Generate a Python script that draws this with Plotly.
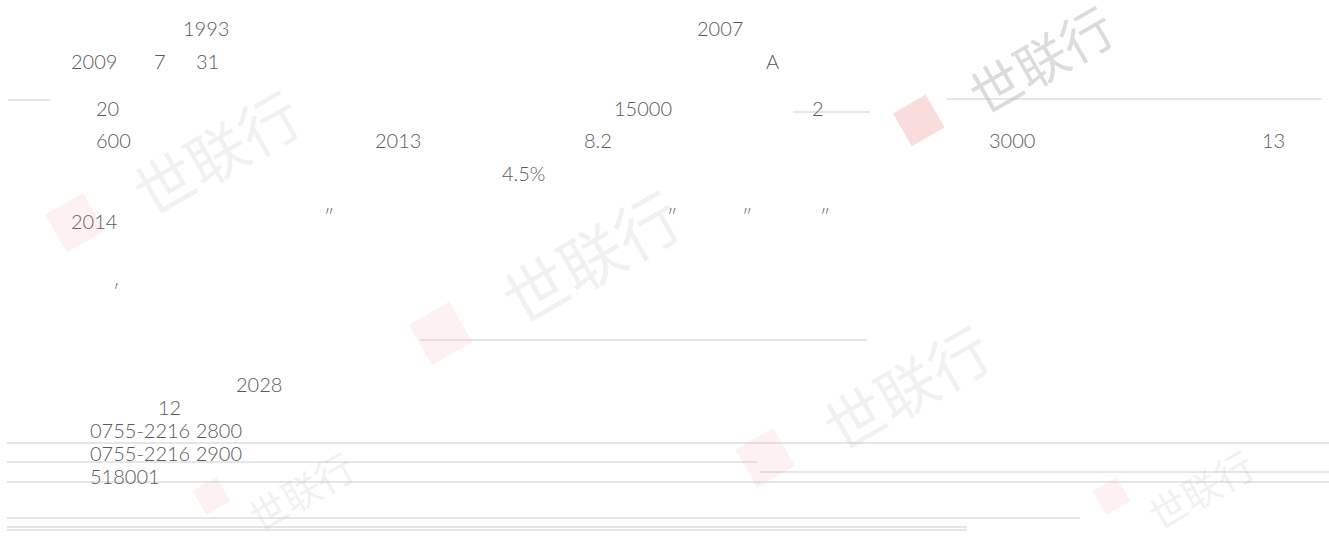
"""Scanned report page: stray numbers left over after CJK glyphs dropped out."""
import plotly.graph_objects as go

PAGE_W, PAGE_H = 1329, 538

# ── Text fragments still legible on the page (left edge x, centre y) ────────
words = [
    "1993", "2007",
    "2009", "7", "31", "A",
    "20", "15000", "2",
    "600", "2013", "8.2", "3000", "13",
    "4.5%",
    "2014", "\u2033", "\u2033", "\u2033", "\u2033",
    "\u2032",
    "2028", "12",
    "0755-2216 2800", "0755-2216 2900", "518001",
]
word_x = [
    183, 697,
    71, 154, 196, 766,
    96, 614, 812,
    96, 375, 584, 989, 1262,
    502,
    71, 324, 667, 742, 820,
    113,
    236, 158,
    90, 90, 90,
]
word_y = [
    31, 31,
    64, 64, 64, 64,
    111, 111, 111,
    143, 143, 143, 143, 143,
    176,
    224, 219, 219, 219, 219,
    294,
    387, 410,
    433, 456, 479,
]

# ── Rule lines (y, x start, x end) ───────────────────────────────────────────
rule_y = [100, 99, 112, 340, 443, 462, 472, 482, 518, 527, 530]
rule_x0 = [8, 947, 793, 420, 7, 7, 760, 7, 7, 7, 7]
rule_x1 = [50, 1322, 870, 867, 1329, 757, 1329, 1329, 1080, 967, 967]

# ── Watermarks: first one is crisp, the rest are washed out ─────────────────
mark_x = [1040, 215, 590, 905, 300, 1200]
mark_y = [58, 150, 255, 385, 490, 488]
mark_size = [52, 60, 64, 60, 38, 38]
mark_alpha = [0.5, 0.2, 0.2, 0.2, 0.2, 0.2]

fig = go.Figure()

for y, x0, x1 in zip(rule_y, rule_x0, rule_x1):
    fig.add_shape(
        type="line", x0=x0, x1=x1, y0=y, y1=y,
        line=dict(color="#dedede", width=1.5),
        layer="below",
    )

for cx, cy, sz, a in zip(mark_x, mark_y, mark_size, mark_alpha):
    # red logo block + grey characters, tilted like the stamp
    fig.add_annotation(
        x=cx - sz * 2.4, y=min(cy + sz * 1.1, PAGE_H - sz * 1.2),
        text="\u25a0",
        showarrow=False, textangle=-30,
        font=dict(size=int(sz * 1.5), color=f"rgba(235,140,140,{a * 0.6:.2f})"),
    )
    fig.add_annotation(
        x=cx, y=cy,
        text="世联行",
        showarrow=False, textangle=-30,
        font=dict(size=sz, family="Noto Sans CJK SC", color=f"rgba(185,185,185,{a})"),
    )

fig.add_trace(go.Scatter(
    x=word_x,
    y=word_y,
    mode="text",
    text=words,
    textposition="middle right",
    textfont=dict(family="Lato", size=20, color="#5a5a5a", weight=300),
    hoverinfo="skip",
))

fig.update_layout(
    width=PAGE_W,
    height=PAGE_H,
    margin=dict(l=0, r=0, t=0, b=0),
    xaxis=dict(visible=False, range=[0, PAGE_W]),
    yaxis=dict(visible=False, range=[PAGE_H, 0]),
    plot_bgcolor="white",
    paper_bgcolor="white",
    showlegend=False,
)

fig.write_html(
    "out.html",
    config={"displayModeBar": False},
    post_script="document.body.style.margin = '0';",
)
